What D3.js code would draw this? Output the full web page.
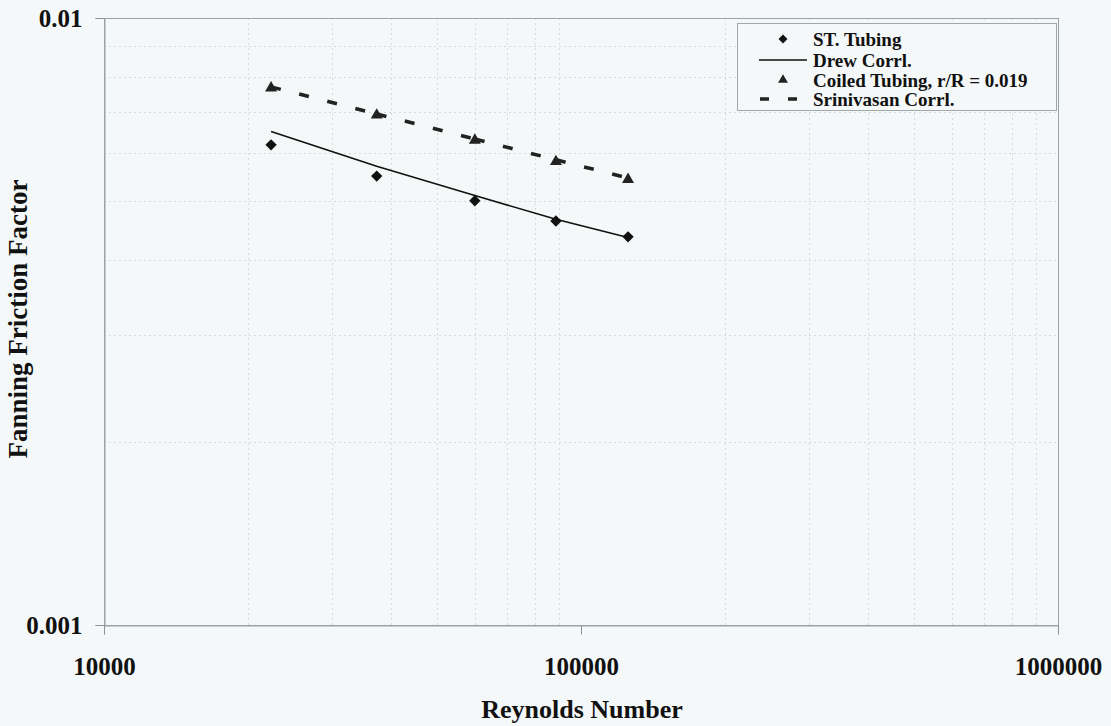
<!DOCTYPE html>
<html>
<head>
<meta charset="utf-8">
<script src="https://cdn.jsdelivr.net/npm/d3@7"></script>
<style>
  html, body { margin: 0; padding: 0; background: #f5f8f8; }
  svg { display: block; }
  text { font-family: "Liberation Serif", "Times New Roman", serif; font-weight: bold; fill: #111; }
</style>
</head>
<body>
<svg id="chart" width="1111" height="726"></svg>
<script>
// ---- data ----
const reynolds        = [22400, 37300, 59900, 88600, 125500];
const stTubing        = [0.00618, 0.00549, 0.00500, 0.00463, 0.00436];
const drewCorrl       = [0.00650, 0.00570, 0.00510, 0.00466, 0.00435];
const coiledTubing    = [0.00767, 0.00692, 0.00629, 0.00580, 0.00542];
const srinivasanCorrl = [0.00770, 0.00695, 0.00632, 0.00584, 0.00545];
const xTicks = [10000, 100000, 1000000];
const yTicks = [0.001, 0.01];
const xMinor = [2,3,4,5,6,7,8,9].flatMap(k => [k * 1e4, k * 1e5]);
const yMinor = [2,3,4,5,6,7,8,9].map(k => k * 1e-3);
const legendLabels = ["ST. Tubing", "Drew Corrl.", "Coiled Tubing, r/R = 0.019", "Srinivasan Corrl."];

const L = 104, R = 1058, T = 18, B = 625;
const svg = d3.select("#chart");
const x = d3.scaleLog().domain([1e4, 1e6]).range([L, R]);
const y = d3.scaleLog().domain([0.001, 0.01]).range([B, T]);

// minor gridlines
const grid = svg.append("g").attr("stroke", "#d6dcdc").attr("stroke-width", 1).attr("stroke-dasharray", "2,3");
grid.selectAll("line.vx").data(xMinor).join("line")
  .attr("x1", d => Math.round(x(d)) + 0.5).attr("x2", d => Math.round(x(d)) + 0.5)
  .attr("y1", T).attr("y2", B);
grid.selectAll("line.hy").data(yMinor).join("line")
  .attr("y1", d => Math.round(y(d)) + 0.5).attr("y2", d => Math.round(y(d)) + 0.5)
  .attr("x1", L).attr("x2", R);

// plot border
svg.append("rect").attr("x", L + 0.5).attr("y", T + 0.5).attr("width", R - L).attr("height", B - T)
  .attr("fill", "none").attr("stroke", "#9aa3a6").attr("stroke-width", 1);

// axes
const xAxis = svg.append("g").attr("transform", `translate(0,${B + 0.5})`)
  .call(d3.axisBottom(x).tickValues(xTicks).tickFormat(d3.format("d")).tickSize(9).tickPadding(23));
const yAxis = svg.append("g").attr("transform", `translate(${L + 0.5},0)`)
  .call(d3.axisLeft(y).tickValues(yTicks).tickFormat(d => String(d)).tickSize(9).tickPadding(13));
[xAxis, yAxis].forEach(a => {
  a.select(".domain").attr("stroke", "#9aa3a6");
  a.selectAll(".tick line").attr("stroke", "#8a9396");
  a.selectAll(".tick text").style("font-family", '"Liberation Serif", serif')
    .style("font-weight", "bold").style("font-size", "25px").attr("fill", "#111");
});

// axis titles
svg.append("text").attr("x", 582).attr("y", 718).attr("text-anchor", "middle")
  .style("font-size", "26px").text("Reynolds Number");
svg.append("text").attr("transform", "translate(27,319) rotate(-90)").attr("text-anchor", "middle")
  .style("font-size", "27px").text("Fanning Friction Factor");

// Drew correlation line
const pts = (ys) => reynolds.map((r, i) => [x(r), y(ys[i])]);
svg.append("path").attr("d", d3.line()(pts(drewCorrl)))
  .attr("fill", "none").attr("stroke", "#111").attr("stroke-width", 1.6);

// Srinivasan correlation: dashed, pattern restarts per segment
const sp = pts(srinivasanCorrl);
svg.append("g").selectAll("line").data(d3.pairs(sp)).join("line")
  .attr("x1", d => d[0][0]).attr("y1", d => d[0][1])
  .attr("x2", d => d[1][0]).attr("y2", d => d[1][1])
  .attr("stroke", "#222").attr("stroke-width", 3.6).attr("stroke-dasharray", "10,19");

// markers
const diamond = d3.symbol().type(d3.symbolSquare).size(64);
const tri = d3.symbol().type(d3.symbolTriangle).size(62);
svg.append("g").selectAll("path").data(pts(stTubing)).join("path")
  .attr("d", diamond).attr("transform", d => `translate(${d[0]},${d[1]}) rotate(45)`).attr("fill", "#111");
svg.append("g").selectAll("path").data(pts(coiledTubing)).join("path")
  .attr("d", tri).attr("transform", d => `translate(${d[0]},${d[1]})`).attr("fill", "#222");

// legend
const lg = svg.append("g");
lg.append("rect").attr("x", 737.5).attr("y", 23.5).attr("width", 319).attr("height", 87)
  .attr("fill", "#f5f8f8").attr("stroke", "#a0a8aa");
const rowY = [39, 60, 80, 99];
lg.selectAll("text").data(legendLabels).join("text")
  .attr("x", 813).attr("y", (d, i) => rowY[i] + 6.5).style("font-size", "19px").text(d => d);
lg.append("path").attr("d", d3.symbol().type(d3.symbolSquare).size(40))
  .attr("transform", `translate(783,${rowY[0]}) rotate(45)`).attr("fill", "#111");
lg.append("line").attr("x1", 759).attr("x2", 807).attr("y1", rowY[1]).attr("y2", rowY[1])
  .attr("stroke", "#111").attr("stroke-width", 1.6);
lg.append("path").attr("d", d3.symbol().type(d3.symbolTriangle).size(42))
  .attr("transform", `translate(783,${rowY[2]})`).attr("fill", "#222");
lg.append("line").attr("x1", 760).attr("x2", 807).attr("y1", rowY[3]).attr("y2", rowY[3])
  .attr("stroke", "#222").attr("stroke-width", 3.6).attr("stroke-dasharray", "9,19");
</script>
</body>
</html>
